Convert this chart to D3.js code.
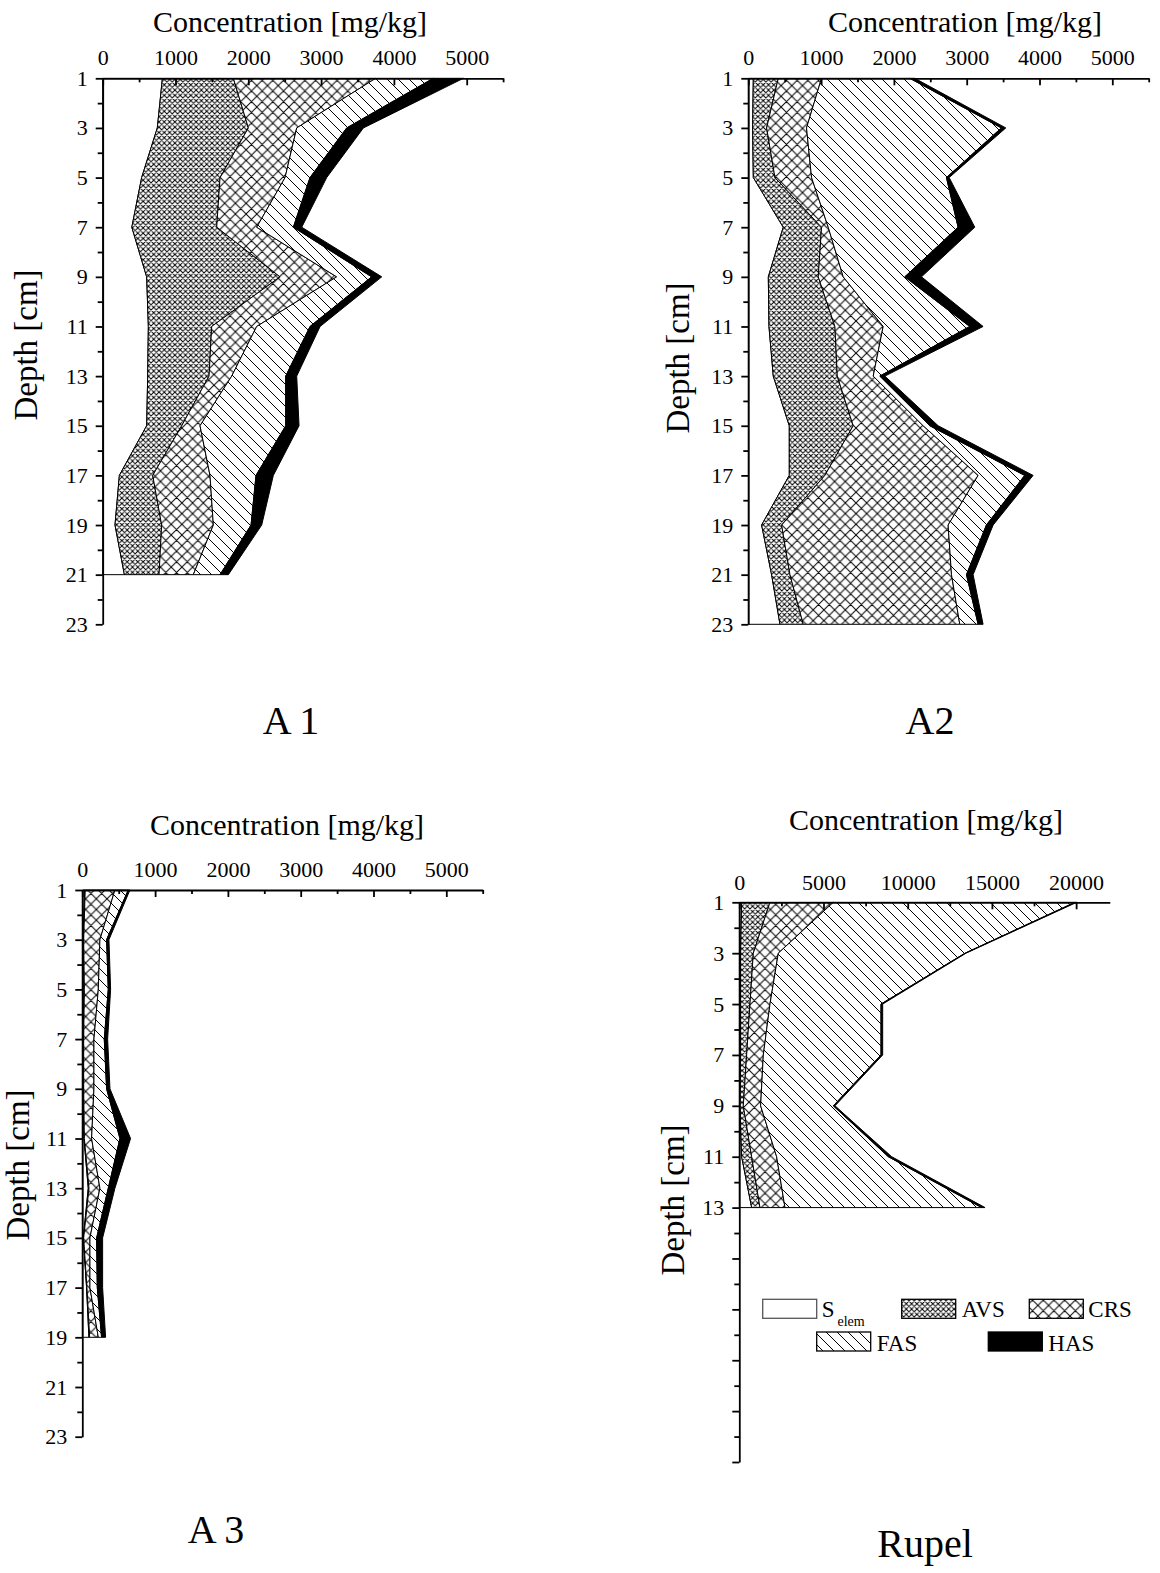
<!DOCTYPE html>
<html><head><meta charset="utf-8">
<script src="https://cdn.jsdelivr.net/npm/d3@7"></script>
<style>body{margin:0;background:#fff}svg{display:block}</style>
</head><body>
<script>
// ---------- data ----------
const keys = ["S", "AVS", "CRS", "FAS", "HAS"];

const depthA1 = [1, 3, 5, 7, 9, 11, 13, 15, 17, 19, 21];
const selemA1 = [820, 750, 535, 400, 604, 627, 618, 604, 229, 169, 298];
const avsA1   = [975, 1251, 1077, 1166, 1832, 870, 843, 481, 458, 641, 476];
const crsA1   = [1955, 664, 893, 549, 778, 618, 311, 252, 787, 710, 471];
const fasA1   = [792, 687, 343, 504, 481, 733, 742, 1177, 632, 518, 367];
const hasA1   = [413, 229, 229, 115, 138, 138, 151, 183, 238, 146, 114];

const depthA2 = [1, 3, 5, 7, 9, 11, 13, 15, 17, 19, 21, 23];
const selemA2 = [69, 59, 69, 480, 275, 284, 343, 563, 563, 183, 320, 435];
const avsA2   = [343, 193, 297, 526, 686, 906, 879, 878, 489, 275, 252, 320];
const crsA2   = [594, 548, 503, 92, 343, 663, 494, 961, 2105, 2287, 2219, 2150];
const fasA2   = [1213, 2677, 1853, 1784, 846, 1189, 91, 91, 640, 526, 206, 252];
const hasA2   = [68, 60, 37, 229, 229, 183, 69, 115, 115, 92, 91, 68];

const depthA3 = [1, 3, 5, 7, 9, 11, 13, 15, 17, 19];
const selemA3 = [30, 14, 23, 14, 14, 23, 82, 14, 59, 91];
const avsA3   = [10, 5, 5, 5, 5, 5, 10, 5, 5, 10];
const crsA3   = [408, 223, 192, 141, 141, 100, 150, 86, 41, 119];
const fasA3   = [183, 92, 137, 142, 174, 389, 115, 92, 101, 45];
const hasA3   = [23, 32, 32, 46, 46, 146, 91, 82, 73, 55];

const depthR = [1, 3, 5, 7, 9, 11, 13];
const selemR = [139, 79, 79, 79, 40, 139, 733];
const avsR   = [1683, 753, 555, 357, 198, 594, 495];
const crsR   = [3762, 1485, 1188, 990, 1029, 1485, 1485];
const fasR   = [14355, 11088, 6593, 6989, 4317, 6633, 11682];
const hasR   = [99, 59, 99, 99, 99, 198, 198];

const xTicksA = [0, 1000, 2000, 3000, 4000, 5000];
const xMinorA = [500, 1500, 2500, 3500, 4500, 5500];
const xTicksR = [0, 5000, 10000, 15000, 20000];
const xMinorR = [2500, 7500, 12500, 17500];
const yTicks  = [1, 3, 5, 7, 9, 11, 13, 15, 17, 19, 21, 23];
const yMinor  = [2, 4, 6, 8, 10, 12, 14, 16, 18, 20, 22];

const xTitle = "Concentration [mg/kg]";
const yTitle = "Depth [cm]";
const legendNames = ["S", "AVS", "CRS", "FAS", "HAS"];

// ---------- drawing ----------
const FONT = "'Liberation Serif','Times New Roman',serif";
const svg = d3.select("body").append("svg")
  .attr("width", 1160).attr("height", 1573)
  .style("font-family", FONT);
const defs = svg.append("defs");

function hatch(id, s, dirs, sw) {
  const p = defs.append("pattern").attr("id", id)
    .attr("patternUnits", "userSpaceOnUse").attr("width", s).attr("height", s);
  p.append("rect").attr("width", s).attr("height", s).attr("fill", "#fff");
  let d = "";
  if (dirs.includes("b")) d += `M0,0L${s},${s}M${s-1},-1L${s+1},1M-1,${s-1}L1,${s+1}`;
  if (dirs.includes("f")) d += `M0,${s}L${s},0M-1,1L1,-1M${s-1},${s+1}L${s+1},${s-1}`;
  p.append("path").attr("d", d).attr("stroke", "#000").attr("stroke-width", sw).attr("fill", "none");
}
hatch("pAVS", 5.3, "bf", 1.0);
hatch("pCRS", 10.7, "bf", 1.0);
hatch("pFAS", 11, "b", 1.0);

const fills = { S: "#fff", AVS: "url(#pAVS)", CRS: "url(#pCRS)", FAS: "url(#pFAS)", HAS: "#000" };

function panel(cfg) {
  const g = svg.append("g");
  const x = d3.scaleLinear().domain([0, cfg.xmax]).range([cfg.x0, cfg.x1]);
  const y = d3.scaleLinear().domain([1, 23]).range([cfg.y0, cfg.y1]);
  const rows = cfg.depth.map((d, i) => ({
    depth: d, S: cfg.s[i], AVS: cfg.avs[i], CRS: cfg.crs[i], FAS: cfg.fas[i], HAS: cfg.has[i]
  }));
  const series = d3.stack().keys(keys)(rows);
  const area = d3.area()
    .y(d => y(d.data.depth))
    .x0(d => x(d[0]))
    .x1(d => x(d[1]));
  g.selectAll("path.layer").data(series).join("path")
    .attr("class", "layer")
    .attr("d", area)
    .attr("fill", s => fills[s.key])
    .attr("stroke", "#000")
    .attr("stroke-width", 1);

  // x axis (top), ticks inward
  const xa = g.append("g").attr("transform", `translate(0,${cfg.y0})`)
    .call(d3.axisTop(x).tickValues(cfg.xticks).tickSizeInner(-7).tickSizeOuter(0)
      .tickPadding(cfg.xpad).tickFormat(d3.format("d")));
  const xm = g.append("g").attr("transform", `translate(0,${cfg.y0})`)
    .call(d3.axisTop(x).tickValues(cfg.xminor).tickSizeInner(-4).tickSizeOuter(0).tickFormat(""));
  xm.select(".domain").remove();

  // y axis (left), ticks outward
  const ya = g.append("g").attr("transform", `translate(${cfg.x0},0)`)
    .call(d3.axisLeft(y).tickValues(yTicks).tickSize(7).tickSizeOuter(0).tickPadding(8)
      .tickFormat(d => d <= cfg.ylabMax ? d : ""));
  g.append("g").attr("transform", `translate(${cfg.x0},0)`)
    .call(d3.axisLeft(y).tickValues(yMinor).tickSize(5).tickSizeOuter(0).tickFormat(""))
    .select(".domain").remove();

  g.selectAll(".tick line, .domain").attr("stroke", "#000").attr("stroke-width", 1.8);
  [xa, ya].forEach(a => a.attr("font-size", 22).attr("font-family", FONT)
    .selectAll("text").attr("fill", "#000"));

  // titles
  g.append("text").attr("x", cfg.tx).attr("y", cfg.ty).attr("text-anchor", "middle")
    .attr("font-size", 30).text(xTitle);
  g.append("text").attr("transform", `translate(${cfg.ylx},${cfg.yly}) rotate(-90)`)
    .attr("text-anchor", "middle").attr("font-size", 33).text(yTitle);
  g.append("text").attr("x", cfg.plx).attr("y", cfg.ply).attr("text-anchor", "middle")
    .attr("font-size", 40).text(cfg.label);
}

panel({ depth: depthA1, s: selemA1, avs: avsA1, crs: crsA1, fas: fasA1, has: hasA1,
  xmax: 5500, x0: 102.7, x1: 503.1, y0: 78.3, y1: 624.3,
  xticks: xTicksA, xminor: xMinorA, xpad: 13, ylabMax: 23,
  tx: 290, ty: 32, ylx: 37, yly: 345, plx: 291, ply: 734, label: "A 1" });

panel({ depth: depthA2, s: selemA2, avs: avsA2, crs: crsA2, fas: fasA2, has: hasA2,
  xmax: 5500, x0: 748.3, x1: 1148.7, y0: 78.3, y1: 624.3,
  xticks: xTicksA, xminor: xMinorA, xpad: 13, ylabMax: 23,
  tx: 965, ty: 32, ylx: 689, yly: 358, plx: 930, ply: 734, label: "A2" });

panel({ depth: depthA3, s: selemA3, avs: avsA3, crs: crsA3, fas: fasA3, has: hasA3,
  xmax: 5500, x0: 82.3, x1: 482.7, y0: 890, y1: 1436.7,
  xticks: xTicksA, xminor: xMinorA, xpad: 13, ylabMax: 23,
  tx: 287, ty: 835, ylx: 29, yly: 1165, plx: 216, ply: 1543, label: "A 3" });

panel({ depth: depthR, s: selemR, avs: avsR, crs: crsR, fas: fasR, has: hasR,
  xmax: 22000, x0: 739.3, x1: 1109.8, y0: 902.3, y1: 1462,
  xticks: xTicksR, xminor: xMinorR, xpad: 12, ylabMax: 13,
  tx: 926, ty: 830, ylx: 684, yly: 1200, plx: 925, ply: 1557, label: "Rupel" });

// ---------- legend ----------
const leg = svg.append("g").attr("font-size", 23);
const legItems = [
  { k: "S", bx: 762.7, by: 1299.3, tx: 821.7, ty: 1317 },
  { k: "AVS", bx: 901.7, by: 1299.3, tx: 961.7, ty: 1317 },
  { k: "CRS", bx: 1029.3, by: 1299.3, tx: 1088.3, ty: 1317 },
  { k: "FAS", bx: 816.7, by: 1332, tx: 876.7, ty: 1350.5 },
  { k: "HAS", bx: 988.3, by: 1332, tx: 1048.3, ty: 1350.5 }
];
legItems.forEach((it, i) => {
  leg.append("rect").attr("x", it.bx).attr("y", it.by).attr("width", 54).attr("height", 19)
    .attr("fill", fills[it.k]).attr("stroke", it.k === "S" ? "#555" : "#000").attr("stroke-width", 1.3);
  const t = leg.append("text").attr("x", it.tx).attr("y", it.ty).text(legendNames[i]);
  if (it.k === "S") t.append("tspan").attr("font-size", 14).attr("dx", 3).attr("dy", 9).text("elem");
});
</script>
</body></html>
